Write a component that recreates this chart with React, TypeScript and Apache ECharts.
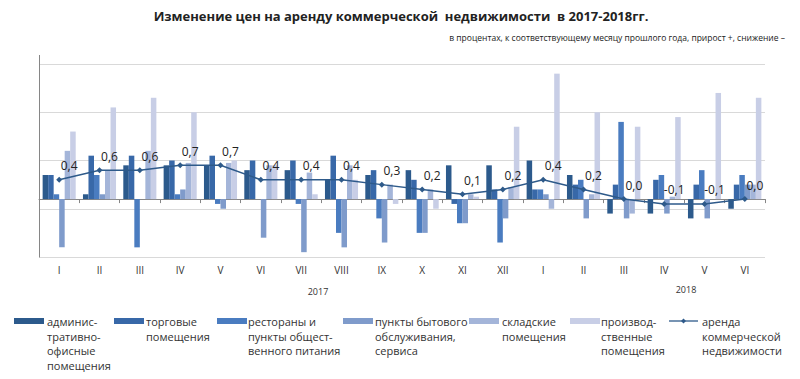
import React, { useEffect, useRef } from "react";
import * as echarts from "echarts";

const months = ["I", "II", "III", "IV", "V", "VI", "VII", "VIII", "IX", "X", "XI", "XII", "I", "II", "III", "IV", "V", "VI"];
const years = ["2017", "2018"];

const seriesNames = [
  "админис-\nтративно-\nофисные\nпомещения",
  "торговые\nпомещения",
  "рестораны и\nпункты общест-\nвенного питания",
  "пункты бытового\nобслуживания,\nсервиса",
  "складские\nпомещения",
  "производ-\nственные\nпомещения",
];
const lineName = "аренда\nкоммерческой\nнедвижимости";

const admin = [0.5, 0.1, 0.7, 0.7, 0.7, 0.6, 0.6, 0.4, 0.5, 0.6, 0.7, 0.7, 0.8, 0.5, -0.3, -0.3, -0.4, -0.2];
const retail = [0.5, 0.9, 0.9, 0.8, 0.9, 0.8, 0.8, 0.9, 0.6, 0.4, -0.1, 0.2, 0.2, 0.3, 0.3, 0.4, 0.3, 0.3];
const restaurants = [0.1, 0.5, -1.0, 0.1, -0.1, 0, -0.1, -0.7, -0.4, -0.7, -0.5, -0.9, 0.2, 0.4, 1.6, 0.5, 0.6, 0.5];
const services = [-1.0, 0.1, 0, 0.2, -0.2, -0.8, -1.1, -1.0, -0.9, -0.7, -0.5, -0.4, 0.1, -0.4, -0.4, -0.3, -0.4, 0.3];
const warehouse = [1.0, 0.6, 1.0, 0.75, 0.75, 0.7, 0.55, 0.7, 0.3, 0.2, 0.1, 0.25, -0.2, 0.1, -0.3, 0.05, 0, 0.3];
const industrial = [1.4, 1.9, 2.1, 1.8, 0.8, 0.7, 0.1, 0.4, -0.1, -0.2, 0.05, 1.5, 2.6, 1.8, 1.5, 1.7, 2.2, 2.1];
const total = [0.4, 0.6, 0.6, 0.7, 0.7, 0.4, 0.4, 0.4, 0.3, 0.2, 0.1, 0.2, 0.4, 0.2, 0.0, -0.1, -0.1, 0.0];

const barData = [admin, retail, restaurants, services, warehouse, industrial];
const colors = ["#2C5A8C", "#3868A8", "#4A7CC0", "#7F9BCB", "#A4B5D9", "#C8CEE6"];
const lineColor = "#2E5A8A";

const FONT = "'Open Sans', 'Noto Sans', sans-serif";

export default function App() {
  const ref = useRef<HTMLDivElement>(null);
  useEffect(() => {
    if (!ref.current) return;
    const chart = echarts.init(ref.current, null, { renderer: "svg" });

    const legendX = [14, 114, 217, 343, 469, 570];
    const legendTextX = [47, 146, 248, 375, 502, 601];
    const graphics: any[] = [];
    barData.forEach((_, i) => {
      graphics.push({
        type: "rect",
        shape: { x: legendX[i], y: 318, width: 30, height: 6 },
        style: { fill: colors[i] },
      });
      graphics.push({
        type: "text",
        x: legendTextX[i],
        y: 314,
        style: {
          text: seriesNames[i],
          font: `11px ${FONT}`,
          fill: "#333",
          lineHeight: 14.7,
          verticalAlign: "top",
        },
      });
    });
    graphics.push({
      type: "line",
      shape: { x1: 669, y1: 321, x2: 698, y2: 321 },
      style: { stroke: lineColor, lineWidth: 1.3 },
    });
    graphics.push({
      type: "polygon",
      shape: { points: [[683.5, 318.5], [686, 321], [683.5, 323.5], [681, 321]] },
      style: { fill: lineColor },
    });
    graphics.push({
      type: "text",
      x: 702,
      y: 314,
      style: { text: lineName, font: `11px ${FONT}`, fill: "#333", lineHeight: 14.7, verticalAlign: "top" },
    });
    graphics.push({
      type: "text",
      x: 318,
      y: 291,
      style: { text: years[0], font: `9px ${FONT}`, fill: "#333", align: "center", verticalAlign: "middle" },
    });
    graphics.push({
      type: "text",
      x: 686,
      y: 289,
      style: { text: years[1], font: `9px ${FONT}`, fill: "#333", align: "center", verticalAlign: "middle" },
    });
    graphics.push({
      type: "line",
      shape: { x1: 39.5, y1: 55, x2: 39.5, y2: 64 },
      style: { stroke: "#868686", lineWidth: 1 },
    });

    const series: any[] = barData.map((d, i) => ({
      name: seriesNames[i],
      type: "bar",
      data: d,
      barGap: "0%",
      barCategoryGap: "18%",
      itemStyle: { color: colors[i] },
    }));
    series.push({
      name: lineName,
      type: "line",
      data: total,
      symbol: "diamond",
      symbolSize: 6,
      lineStyle: { color: lineColor, width: 1.5 },
      itemStyle: { color: lineColor },
      z: 5,
      label: {
        show: true,
        position: "top",
        offset: [10, 0],
        color: "#222",
        fontSize: 12,
        fontFamily: FONT,
        formatter: (p: any) => p.value.toFixed(1).replace(".", ","),
      },
    });

    chart.setOption({
      animation: false,
      backgroundColor: "#fff",
      title: [
        {
          text: "Изменение цен на аренду коммерческой  недвижимости  в 2017-2018гг.",
          left: 396,
          top: 4,
          textAlign: "center",
          textStyle: { fontFamily: FONT, fontSize: 13, fontWeight: "bold", color: "#222" },
        },
        {
          text: "в процентах, к соответствующему месяцу прошлого года, прирост +, снижение –",
          right: 10,
          top: 28,
          textStyle: { fontFamily: FONT, fontSize: 8.5, fontWeight: "normal", color: "#222" },
        },
      ],
      grid: { left: 39, right: 35, top: 64, bottom: 122, containLabel: false },
      xAxis: {
        type: "category",
        data: months,
        axisLine: { onZero: true, lineStyle: { color: "#868686" } },
        axisTick: { show: true, length: 4, lineStyle: { color: "#868686" } },
        axisLabel: { margin: 8, fontSize: 10, color: "#333", fontFamily: FONT },
        splitLine: { show: false },
      },
      yAxis: {
        type: "value",
        min: -1.2,
        max: 2.8,
        interval: 1,
        axisLine: { show: true, lineStyle: { color: "#868686" } },
        axisTick: { show: false },
        axisLabel: { show: false },
        splitLine: { show: true, lineStyle: { color: "#D9D9D9", width: 1 } },
      },
      series,
      graphic: graphics,
    });
    return () => chart.dispose();
  }, []);
  return (
    <div
      ref={ref}
      style={{ position: "absolute", left: 0, top: 0, width: 800, height: 379, background: "#fff" }}
    />
  );
}
